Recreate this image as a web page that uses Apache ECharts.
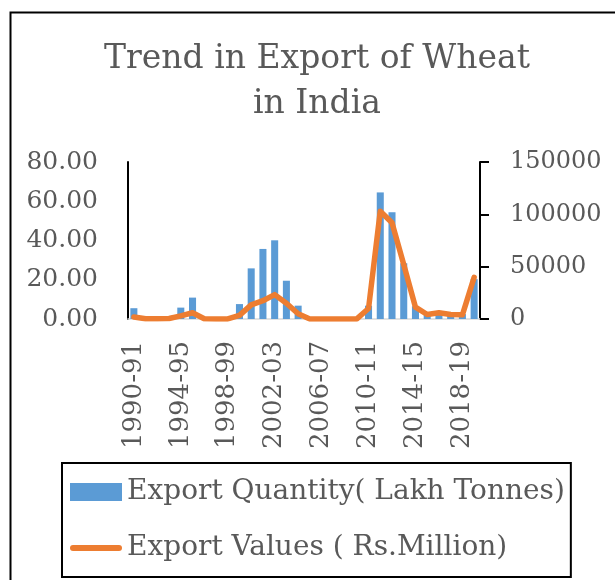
<!DOCTYPE html>
<html>
<head>
<meta charset="utf-8">
<script src="https://cdn.jsdelivr.net/npm/echarts@6/dist/echarts.min.js"></script>
<style>
html,body{margin:0;padding:0;background:#fff;}
#chart{width:615px;height:580px;}
</style>
</head>
<body>
<div id="chart"></div>
<script>
const categories = ["1990-91","1991-92","1992-93","1993-94","1994-95","1995-96","1996-97","1997-98","1998-99","1999-00",
  "2000-01","2001-02","2002-03","2003-04","2004-05","2005-06","2006-07","2007-08","2008-09","2009-10",
  "2010-11","2011-12","2012-13","2013-14","2014-15","2015-16","2016-17","2017-18","2018-19","2019-20"];
const exportQuantity = [5.5, 0.2, 0.2, 0.3, 5.8, 10.9, 0.3, 0.1, 0.1, 7.6,
  25.8, 35.7, 40.1, 19.5, 6.8, 0.2, 0.1, 0.1, 0.1, 0.2,
  6.8, 64.5, 54.4, 28.4, 6.5, 3.0, 2.5, 3.0, 2.5, 20.3];
const exportValues = [2000, 300, 200, 500, 3000, 6000, 200, 100, 100, 3500,
  13500, 17500, 23300, 15000, 5000, 100, 50, 50, 50, 100,
  10000, 103000, 92000, 52000, 11300, 4300, 6000, 4300, 4000, 39800];
const titleText = "Trend in Export of Wheat\nin India";
const seriesNames = ["Export Quantity( Lakh Tonnes)", "Export Values ( Rs.Million)"];

const FONT = "DejaVu Serif";
const TXT = "#595959";
const chart = echarts.init(document.getElementById('chart'), null, {renderer: 'canvas'});
chart.setOption({
  animation: false,
  backgroundColor: '#fff',
  graphic: [
    {type: 'rect', left: 8, top: 10, shape: {width: 640, height: 600}, style: {fill: 'none', stroke: '#000', lineWidth: 2}, silent: true},
    {type: 'text', x: 317, y: 37, style: {text: titleText, fill: TXT, font: '33px "DejaVu Serif"', textAlign: 'center', lineHeight: 45}, silent: true}
  ],
  grid: {left: 128, right: 135, top: 162, bottom: 261, containLabel: false},
  legend: {
    orient: 'vertical',
    left: 62, top: 463,
    padding: [14, 6, 14, 8],
    itemGap: 26,
    itemWidth: 52, itemHeight: 18,
    borderColor: '#000', borderWidth: 2,
    textStyle: {fontFamily: FONT, fontSize: 28, color: TXT, lineHeight: 30},
    data: [
      {name: seriesNames[0], icon: 'rect'},
      {name: seriesNames[1], icon: 'path://M3,0 L49,0 A3,3 0 0 1 49,6 L3,6 A3,3 0 0 1 3,0 Z', itemStyle: {color: '#ed7d31'}}
    ]
  },
  xAxis: {
    type: 'category',
    data: categories,
    axisLine: {lineStyle: {color: '#d9d9d9', width: 1.5}},
    axisTick: {show: false},
    axisLabel: {rotate: 90, interval: 3, margin: 22, fontFamily: FONT, fontSize: 26, color: TXT}
  },
  yAxis: [
    {
      type: 'value', min: 0, max: 80, interval: 20, position: 'left',
      axisLine: {show: true, lineStyle: {color: '#000', width: 2}},
      axisTick: {show: false},
      splitLine: {show: false},
      axisLabel: {margin: 30, fontFamily: FONT, fontSize: 25, color: TXT, formatter: v => v.toFixed(2)}
    },
    {
      type: 'value', min: 0, max: 150000, interval: 50000, position: 'right',
      axisLine: {show: true, lineStyle: {color: '#000', width: 2}},
      axisTick: {show: true, inside: false, length: 9, lineStyle: {color: '#000', width: 2}},
      splitLine: {show: false},
      axisLabel: {margin: 30, fontFamily: FONT, fontSize: 24, color: TXT, formatter: v => String(v)}
    }
  ],
  series: [
    {
      name: seriesNames[0], type: 'bar', yAxisIndex: 0,
      data: exportQuantity, barCategoryGap: '40%',
      itemStyle: {color: '#5b9bd5'}
    },
    {
      name: seriesNames[1], type: 'line', yAxisIndex: 1,
      data: exportValues, symbol: 'none', smooth: false,
      lineStyle: {color: '#ed7d31', width: 5.5, cap: 'round', join: 'round'},
      itemStyle: {color: '#ed7d31'}
    }
  ]
});
</script>
</body>
</html>
